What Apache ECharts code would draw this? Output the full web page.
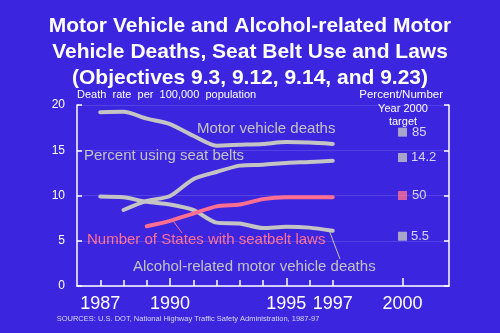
<!DOCTYPE html>
<html><head><meta charset="utf-8">
<script src="https://cdn.jsdelivr.net/npm/echarts@6/dist/echarts.min.js"></script>
<style>html,body{margin:0;padding:0;background:#3b27de;}#c{width:500px;height:333px;}</style>
</head><body><div id="c"></div>
<script>
const years = [1987,1988,1989,1990,1991,1992,1993,1994,1995,1996,1997];
const motorDeaths = [19.2,19.25,18.5,17.9,16.6,15.5,15.6,15.7,15.9,15.85,15.7];
const alcoholDeaths = [9.9,9.8,9.3,9.0,8.4,7.0,6.9,6.4,6.55,6.45,6.1];
const seatBeltPct = [null,42,47,49.7,59,63,66.5,67,68,68.5,69.2];
const statesLaws = [null,null,33,36,40,44,45,48,49,49,49];
const targetYear = 2000;
const targetsRate = [{name:'14.2',value:14.2},{name:'5.5',value:5.5}];
const targetsPct = [{name:'85',value:85,pink:false},{name:'50',value:50,pink:true}];
const xTickYears = [1987,1988,1989,1990,1991,1992,1993,1994,1995,1996,1997,2000];
const xMajorYears = [1990,1995,2000];
const xLabelYears = [1987,1990,1995,1997,2000];

const GREY = '#c4c4c4', PINK = '#ff6f92', WHITE = '#ffffff';
const FF = 'Liberation Sans, Arial, sans-serif';
const FN = '"Liberation Sans Narrow", "Liberation Sans", Arial, sans-serif';
const pair = (xs, ys) => xs.map((x,i)=>[x, ys[i]]).filter(p=>p[1]!=null);

const chart = echarts.init(document.getElementById('c'), null, {renderer:'canvas'});
chart.setOption({
  backgroundColor: '#3b25df',
  animation: false,
  title: {
    text: 'Motor Vehicle and Alcohol-related Motor\nVehicle Deaths, Seat Belt Use and Laws\n(Objectives 9.3, 9.12, 9.14, and 9.23)',
    left: 'center', top: 8,
    textStyle: {color: WHITE, fontFamily: FF, fontWeight: 'bold', fontSize: 21, lineHeight: 26}
  },
  grid: {left: 77, right: 51, top: 105, bottom: 47},
  xAxis: [{
    type: 'value', min: 1986, max: 2002,
    axisLine: {lineStyle: {color: WHITE, width: 1.5}},
    axisTick: {show: true, inside: true, length: 6, lineStyle: {color: WHITE, width: 1.5}, customValues: xTickYears},
    axisLabel: {color: WHITE, fontFamily: FN, fontSize: 18, margin: 9, customValues: xLabelYears, formatter: v => String(v)},
    splitLine: {show: false}
  },{
    type: 'value', min: 1986, max: 2002, position: 'bottom',
    axisLine: {show: false},
    axisTick: {show: true, inside: true, length: 8, lineStyle: {color: WHITE, width: 1.5}, customValues: xMajorYears},
    axisLabel: {show: false},
    splitLine: {show: false}
  }],
  yAxis: [{
    type: 'value', min: 0, max: 20, interval: 5,
    axisLine: {show: true, lineStyle: {color: WHITE, width: 1.5}},
    axisTick: {show: true, inside: true, length: 5, lineStyle: {color: WHITE, width: 1.5}},
    axisLabel: {color: WHITE, fontFamily: FF, fontSize: 12, margin: 12},
    splitLine: {show: true, lineStyle: {color: 'rgba(255,255,255,0.13)', width: 1}}
  },{
    type: 'value', min: 0, max: 20, interval: 5, position: 'right',
    axisLine: {show: true, lineStyle: {color: WHITE, width: 1.5}},
    axisTick: {show: true, inside: true, length: 5, lineStyle: {color: WHITE, width: 1.5}},
    axisLabel: {show: false},
    splitLine: {show: false}
  },{
    type: 'value', min: 0, max: 100, position: 'right', show: false
  }],
  series: [
    {type:'line', data: pair(years, motorDeaths), yAxisIndex:0, showSymbol:false, smooth:0.25,
     lineStyle:{color:GREY, width:4, cap:'round', join:'round'}},
    {type:'line', data: pair(years, alcoholDeaths), yAxisIndex:0, showSymbol:false, smooth:0.25,
     lineStyle:{color:GREY, width:4, cap:'round', join:'round'}},
    {type:'line', data: pair(years, seatBeltPct), yAxisIndex:2, showSymbol:false, smooth:0.25,
     lineStyle:{color:GREY, width:4, cap:'round', join:'round'}},
    {type:'line', data: pair(years, statesLaws), yAxisIndex:2, showSymbol:false, smooth:0.25,
     lineStyle:{color:PINK, width:4, cap:'round', join:'round'}},
    {type:'scatter', yAxisIndex:0, symbol:'rect', symbolSize:9,
     data: targetsRate.map(t=>({value:[targetYear,t.value], name:t.name})),
     itemStyle:{color:GREY},
     label:{show:true, position:'right', distance:4, color:WHITE, fontFamily:FF, fontSize:13, formatter: p=>p.name}},
    {type:'scatter', yAxisIndex:2, symbol:'rect', symbolSize:9,
     data: targetsPct.map(t=>({value:[targetYear,t.value], name:t.name, itemStyle:{color: t.pink?PINK:GREY}})),
     label:{show:true, position:'right', distance:5, color:WHITE, fontFamily:FF, fontSize:13, formatter: p=>p.name}}
  ],
  graphic: [
    {type:'text', left:77, top:89, style:{text:'Death  rate  per  100,000  population', fill:WHITE, font:'11px '+FF}},
    {type:'text', right:57, top:89, style:{text:'Percent/Number', fill:WHITE, font:'11.5px '+FF}},
    {type:'text', x:403, y:103, style:{text:'Year 2000', fill:WHITE, font:'11px '+FF, align:'center'}},
    {type:'text', x:403, y:116, style:{text:'target', fill:WHITE, font:'11px '+FF, align:'center'}},
    {type:'text', x:197, y:121, style:{text:'Motor vehicle deaths', fill:GREY, font:'15px '+FF}},
    {type:'text', x:84, y:148, style:{text:'Percent using seat belts', fill:GREY, font:'15px '+FF}},
    {type:'text', x:87, y:232, style:{text:'Number of States with seatbelt laws', fill:PINK, font:'15px '+FF}},
    {type:'text', x:133, y:259, style:{text:'Alcohol-related motor vehicle deaths', fill:GREY, font:'15px '+FF}},
    {type:'line', shape:{x1:174, y1:222, x2:182, y2:233}, style:{stroke:PINK, lineWidth:1}},
    {type:'line', shape:{x1:329, y1:230, x2:340, y2:259}, style:{stroke:GREY, lineWidth:1}},
    {type:'text', x:188, y:315, style:{text:'SOURCES: U.S. DOT, National Highway Traffic Safety Administration, 1987-97', fill:'#d8d8f8', font:'7.5px '+FF, align:'center'}}
  ]
});
</script></body></html>
